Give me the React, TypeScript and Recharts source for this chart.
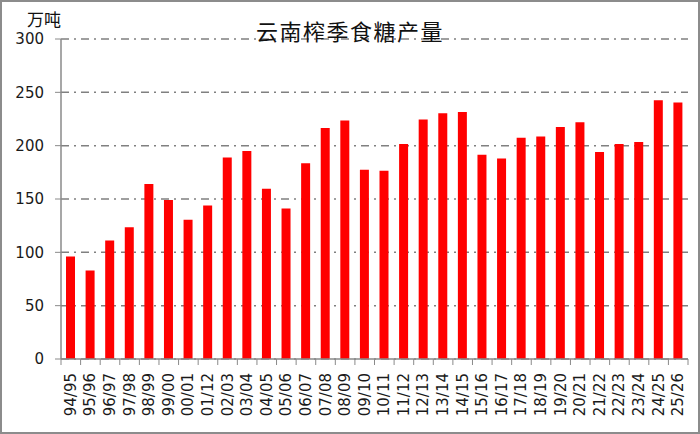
import React from 'react';
import { BarChart, Bar, XAxis, YAxis, CartesianGrid } from 'recharts';

// 榨季 (crushing seasons)
const seasons = [
  '94/95', '95/96', '96/97', '97/98', '98/99', '99/00', '00/01', '01/12',
  '02/03', '03/04', '04/05', '05/06', '06/07', '07/08', '08/09', '09/10',
  '10/11', '11/12', '12/13', '13/14', '14/15', '15/16', '16/17', '17/18',
  '18/19', '19/20', '20/21', '21/22', '22/23', '23/24', '24/25', '25/26',
];

// 产量，万吨
const output = [
  96, 83, 111, 123.5, 164, 149, 130.5, 144,
  189, 195, 159.5, 141, 183.5, 216.5, 223.5, 177.5,
  176.5, 201.5, 224.5, 230.5, 231.5, 191.5, 188, 207.5,
  208.5, 217.5, 222, 194, 201.5, 203.5, 242.5, 240.5,
];

const yTicks = [0, 50, 100, 150, 200, 250, 300];

const WIDTH = 700;
const HEIGHT = 434;
const PLOT_LEFT = 61;
const PLOT_RIGHT = 688;
const PLOT_TOP = 39;
const PLOT_BOTTOM = 359;
const AXIS_COLOR = '#8a8a8a';

const data = seasons.map((s, i) => ({ season: s, value: output[i] }));

// category label rotated, plus tick marks on the category boundaries
const SeasonTick = (props: any) => {
  const { x, y, payload, index } = props;
  const half = (PLOT_RIGHT - PLOT_LEFT) / seasons.length / 2;
  return (
    <g>
      {index === 0 && (
        <line x1={x - half} x2={x - half} y1={y - 8} y2={y - 2} stroke={AXIS_COLOR} strokeWidth={1} />
      )}
      <line x1={x + half} x2={x + half} y1={y - 8} y2={y - 2} stroke={AXIS_COLOR} strokeWidth={1} />
      <text
        x={x}
        y={y + 6}
        transform={`rotate(-90, ${x}, ${y + 6})`}
        textAnchor="end"
        dominantBaseline="central"
        fontFamily="'DejaVu Sans', sans-serif"
        fontSize={15}
        fill="#1a1a1a"
      >
        {payload.value}
      </text>
    </g>
  );
};

export default function App() {
  return (
    <div style={{ position: 'absolute', top: 0, left: 0, width: WIDTH, height: HEIGHT, background: '#fff' }}>
      <BarChart
        width={WIDTH}
        height={HEIGHT}
        data={data}
        margin={{ top: PLOT_TOP, right: WIDTH - PLOT_RIGHT, left: 0, bottom: 0 }}
        barSize={9}
      >
        <CartesianGrid
          horizontal
          vertical={false}
          stroke="#808080"
          strokeWidth={1.5}
          strokeDasharray="8 5 2 5"
        />
        <XAxis
          dataKey="season"
          interval={0}
          height={HEIGHT - PLOT_BOTTOM}
          axisLine={{ stroke: AXIS_COLOR, strokeWidth: 1.5 }}
          tickLine={false}
          tick={<SeasonTick />}
        />
        <YAxis
          width={PLOT_LEFT}
          domain={[0, 300]}
          ticks={yTicks}
          interval={0}
          axisLine={{ stroke: AXIS_COLOR, strokeWidth: 1.5 }}
          tickLine={{ stroke: AXIS_COLOR }}
          tickSize={6}
          tickMargin={11}
          tick={{ fontFamily: "'DejaVu Sans', sans-serif", fontSize: 15, fill: '#1a1a1a' }}
        />
        <Bar dataKey="value" fill="#ff0000" isAnimationActive={false} />
      </BarChart>
      <div
        style={{
          position: 'absolute',
          left: 0,
          width: WIDTH,
          top: 16,
          textAlign: 'center',
          fontFamily: "'Noto Sans CJK SC', serif",
          fontSize: 22,
          letterSpacing: 1.5,
          color: '#111',
          lineHeight: '28px',
        }}
      >
        云南榨季食糖产量
      </div>
      <div
        style={{
          position: 'absolute',
          left: 27,
          top: 8,
          fontFamily: "'Noto Sans CJK SC', sans-serif",
          fontSize: 17,
          color: '#111',
          lineHeight: '22px',
        }}
      >
        万吨
      </div>
      <div
        style={{
          position: 'absolute',
          inset: 0,
          border: '2px solid #8c8c8c',
          pointerEvents: 'none',
        }}
      />
    </div>
  );
}
